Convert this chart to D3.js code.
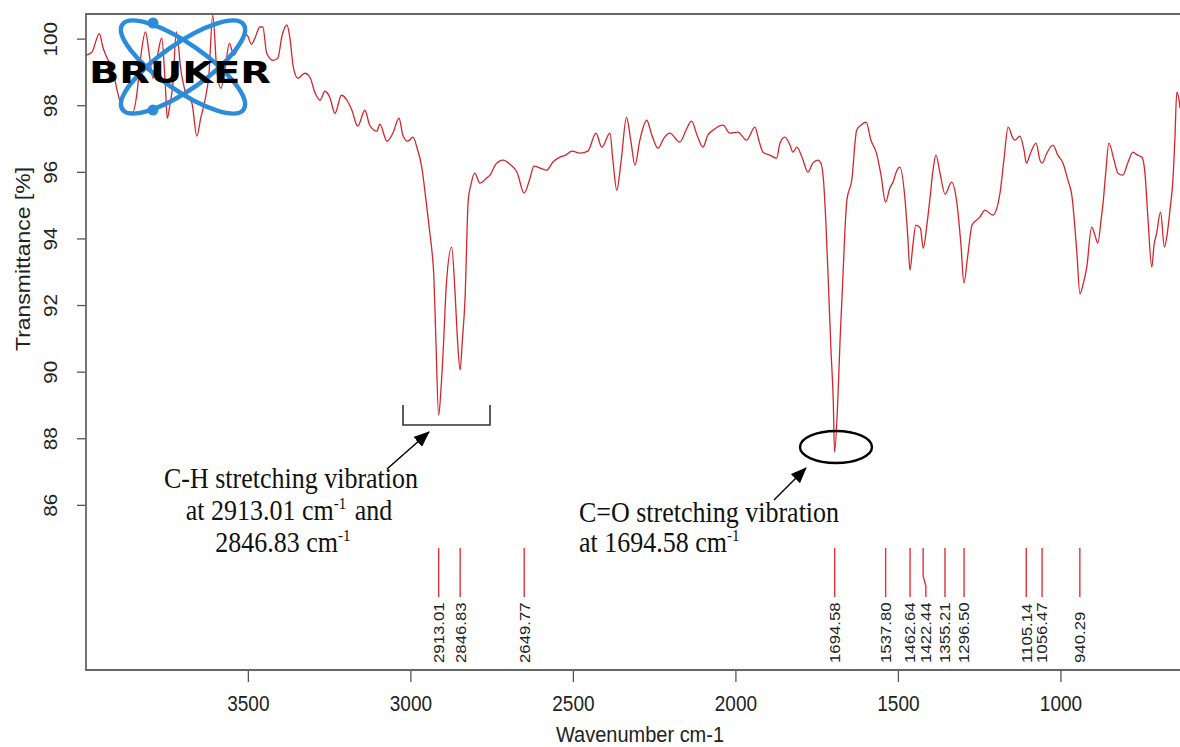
<!DOCTYPE html>
<html>
<head>
<meta charset="utf-8">
<script src="https://cdn.jsdelivr.net/npm/d3@7"></script>
<style>
  body { margin: 0; background: #fff; }
</style>
</head>
<body>
<div id="chart"></div>
<script>
// spectrum (wavenumber cm-1, transmittance %)
var wavenumber = [3998, 3980, 3957, 3946, 3937, 3918, 3894, 3866, 3854, 3842, 3829, 3815, 3803, 3792, 3778, 3765,
  3754, 3748, 3740, 3731, 3720, 3706, 3691, 3672, 3657, 3645, 3632, 3620, 3608, 3595, 3583, 3569, 3557, 3543, 3528,
  3512, 3503, 3489, 3478, 3463, 3454, 3442, 3423, 3408, 3395, 3380, 3371, 3360, 3346, 3325, 3309, 3294, 3278, 3263,
  3248, 3232, 3212, 3195, 3180, 3162, 3140, 3125, 3103, 3094, 3072, 3054, 3035, 3023, 3008, 2992, 2980, 2965, 2952,
  2940, 2934, 2928, 2922, 2913, 2906, 2899, 2889, 2873, 2863, 2855, 2847, 2840, 2832, 2822, 2814, 2802, 2786, 2766,
  2755, 2737, 2715, 2694, 2672, 2650, 2632, 2620, 2581, 2562, 2540, 2522, 2503, 2478, 2454, 2429, 2411, 2386, 2377,
  2365, 2352, 2335, 2322, 2309, 2294, 2273, 2257, 2238, 2220, 2202, 2171, 2152, 2135, 2118, 2100, 2085, 2069, 2038,
  2017, 1992, 1966, 1940, 1928, 1915, 1894, 1873, 1863, 1848, 1832, 1823, 1811, 1795, 1777, 1762, 1746, 1737, 1729,
  1722, 1714, 1706, 1699, 1695, 1685, 1678, 1670, 1663, 1657, 1642, 1627, 1614, 1598, 1583, 1566, 1552, 1538, 1525,
  1514, 1503, 1494, 1478, 1469, 1463, 1454, 1445, 1431, 1422, 1411, 1402, 1392, 1383, 1371, 1355, 1335, 1319, 1306,
  1297, 1285, 1272, 1248, 1232, 1208, 1186, 1174, 1161, 1146, 1140, 1125, 1112, 1105, 1091, 1075, 1063, 1056, 1042,
  1023, 1008, 992, 977, 965, 950, 940, 931, 919, 904, 894, 885, 875, 868, 860, 851, 835, 823, 808, 792, 777, 762,
  749, 740, 731, 719, 712, 704, 692, 680, 672, 663, 654, 648, 642, 635, 632];

var transmittance = [99.50, 99.59, 100.15, 99.74, 99.50, 99.11, 98.15, 97.79, 97.79, 98.30, 99.50, 100.20, 99.50,
  98.81, 99.50, 100.02, 98.60, 97.61, 98.00, 98.60, 100.20, 99.05, 98.36, 98.06, 97.07, 97.61, 98.15, 98.90, 100.71,
  98.99, 98.51, 99.17, 99.86, 99.50, 99.77, 100.05, 100.11, 99.83, 100.02, 100.35, 100.35, 99.56, 99.35, 99.41,
  100.08, 100.41, 100.05, 99.14, 98.81, 98.96, 98.84, 98.39, 98.15, 98.42, 98.24, 97.76, 98.30, 98.15, 97.85, 97.37,
  97.85, 97.40, 97.22, 97.43, 96.92, 97.16, 97.61, 97.10, 96.92, 97.04, 96.74, 96.14, 95.15, 94.16, 93.65, 92.90,
  91.10, 88.69, 89.44, 90.65, 92.66, 93.74, 92.45, 90.95, 90.05, 90.95, 92.15, 95.15, 95.60, 95.96, 95.66, 95.81,
  95.90, 96.23, 96.35, 96.23, 95.99, 95.36, 95.81, 96.17, 96.05, 96.29, 96.44, 96.50, 96.62, 96.56, 96.62, 97.16,
  96.74, 97.16, 96.35, 95.45, 96.29, 97.64, 96.95, 96.20, 96.95, 97.55, 97.10, 96.71, 97.01, 97.16, 96.89, 97.25,
  97.52, 97.10, 96.74, 97.10, 97.25, 97.40, 97.16, 97.19, 96.95, 97.34, 96.95, 96.59, 96.50, 96.41, 96.86, 97.04,
  96.80, 96.59, 96.74, 96.44, 95.99, 96.26, 96.35, 96.26, 95.75, 94.55, 92.66, 90.65, 89.14, 87.58, 89.14, 90.95,
  92.66, 94.25, 95.15, 95.75, 97.25, 97.40, 97.49, 96.95, 96.56, 95.90, 95.09, 95.51, 95.72, 96.05, 96.14, 95.15,
  93.95, 93.05, 93.80, 94.40, 94.31, 93.71, 94.40, 95.15, 96.05, 96.50, 95.99, 95.33, 95.69, 95.09, 93.80, 92.66,
  93.50, 94.40, 94.64, 94.85, 94.70, 95.36, 96.35, 97.34, 97.01, 96.95, 97.07, 96.65, 96.26, 96.59, 96.86, 96.35,
  96.26, 96.56, 96.80, 96.50, 96.26, 95.75, 95.30, 93.65, 92.33, 92.60, 93.14, 94.34, 94.10, 93.86, 94.55, 95.15,
  96.05, 96.86, 96.35, 95.96, 95.90, 96.29, 96.59, 96.50, 96.44, 95.96, 94.64, 93.14, 93.80, 94.16, 94.79, 93.74,
  94.10, 94.85, 95.75, 96.95, 98.39, 98.15, 97.91];

// picked peaks
var peaks = [2913.01, 2846.83, 2649.77, 1694.58, 1537.80, 1462.64, 1422.44, 1355.21, 1296.50, 1105.14, 1056.47, 940.29];

var xTicks = [3500, 3000, 2500, 2000, 1500, 1000];
var yTicks = [86, 88, 90, 92, 94, 96, 98, 100];

var svgWidth = 1180;
var svgHeight = 747;
var plot = { left: 86, right: 1182, top: 14, bottom: 670 };
var stretch = 1.12; // text in the picture is a bit taller than wide
var sans = "'Liberation Sans', Arial, Helvetica, sans-serif";
var serif = "'Liberation Serif', 'Times New Roman', Times, serif";

var svg = d3.select("#chart")
  .append("svg")
  .attr("width", svgWidth)
  .attr("height", svgHeight)
  .style("background", "#fff");

var x = d3.scaleLinear().domain([3998, 626]).range([plot.left, plot.right]);
var y = d3.scaleLinear().domain([81.04, 100.74]).range([plot.bottom, plot.top]);

svg.append("defs").append("clipPath").attr("id", "clip")
  .append("rect")
  .attr("x", plot.left).attr("y", plot.top)
  .attr("width", plot.right - plot.left).attr("height", plot.bottom - plot.top);

var marker = svg.select("defs").append("marker")
  .attr("id", "arrow")
  .attr("markerUnits", "userSpaceOnUse")
  .attr("viewBox", "0 0 16 13")
  .attr("markerWidth", 16).attr("markerHeight", 13)
  .attr("refX", 15).attr("refY", 6.5)
  .attr("orient", "auto");
marker.append("path").attr("d", "M0,0 L16,6.5 L0,13 Z").attr("fill", "#000");

// spectrum
var points = wavenumber.map((w, i) => [w, transmittance[i]]);
var line = d3.line()
  .x(d => x(d[0]))
  .y(d => y(d[1]))
  .curve(d3.curveMonotoneX);

svg.append("path")
  .datum(points)
  .attr("clip-path", "url(#clip)")
  .attr("fill", "none")
  .attr("stroke", "#d3262c")
  .attr("stroke-width", 1.3)
  .attr("stroke-linejoin", "round")
  .attr("d", line);

// axes
var xAxis = svg.append("g")
  .attr("transform", `translate(0, ${plot.bottom})`)
  .call(d3.axisBottom(x).tickValues(xTicks).tickFormat(d3.format("d")).tickSize(12).tickSizeOuter(0));
xAxis.select(".domain").remove();
xAxis.selectAll("line").attr("stroke", "#555").attr("stroke-width", 1.3);
xAxis.selectAll("text")
  .attr("y", null).attr("dy", null)
  .attr("transform", `translate(0, 41) scale(1, ${stretch})`)
  .attr("fill", "#222")
  .style("font-family", sans)
  .style("font-size", "19px");

var yAxis = svg.append("g")
  .attr("transform", `translate(${plot.left}, 0)`)
  .call(d3.axisLeft(y).tickValues(yTicks).tickSize(9).tickSizeOuter(0));
yAxis.select(".domain").remove();
yAxis.selectAll("line").attr("stroke", "#555").attr("stroke-width", 1.3);
yAxis.selectAll("text")
  .attr("x", null).attr("dy", null)
  .attr("text-anchor", "middle")
  .attr("transform", `translate(-29, 0) scale(1, ${stretch}) rotate(-90)`)
  .attr("fill", "#222")
  .style("font-family", sans)
  .style("font-size", "18.5px");

// plot frame
svg.append("path")
  .attr("d", `M${plot.right},${plot.top} H${plot.left} V${plot.bottom} H${plot.right} Z`)
  .attr("fill", "none")
  .attr("stroke", "#666")
  .attr("stroke-width", 1.8);

// axis titles
svg.append("text")
  .attr("transform", `translate(640, 742) scale(1, ${stretch})`)
  .attr("text-anchor", "middle")
  .attr("fill", "#222")
  .style("font-family", sans)
  .style("font-size", "20px")
  .text("Wavenumber cm-1");

svg.append("text")
  .attr("transform", `translate(30, 259) scale(1, ${stretch}) rotate(-90)`)
  .attr("text-anchor", "middle")
  .attr("fill", "#222")
  .style("font-family", sans)
  .style("font-size", "20.5px")
  .text("Transmittance [%]");

// peak sticks and labels, labels pushed apart when too close
var minGap = 15.8;
var prev = -Infinity;
var stickData = peaks.map(function(p) {
  var px = x(p);
  var lx = Math.max(px, prev + minGap);
  prev = lx;
  return { value: p, px: px, lx: lx };
});

var sticks = svg.append("g");
sticks.selectAll("path")
  .data(stickData)
  .enter()
  .append("path")
  .attr("d", d => `M${d.px},548 V576 L${d.lx},586 V597`)
  .attr("fill", "none")
  .attr("stroke", "#e0323a")
  .attr("stroke-width", 1.4);

sticks.selectAll("text")
  .data(stickData)
  .enter()
  .append("text")
  .attr("transform", d => `translate(${d.lx}, 663) scale(1, ${stretch}) rotate(-90)`)
  .attr("dy", "0.36em")
  .attr("fill", "#222")
  .style("font-family", sans)
  .style("font-size", "15px")
  .text(d => d3.format(".2f")(d.value));

// annotations
var notes = svg.append("g").style("font-family", serif).attr("fill", "#111");

// bracket round the C-H doublet
notes.append("path")
  .attr("d", "M403,405 V425 H490 V405")
  .attr("fill", "none")
  .attr("stroke", "#333")
  .attr("stroke-width", 1.6);

notes.append("line")
  .attr("x1", 387).attr("y1", 469).attr("x2", 429).attr("y2", 432)
  .attr("stroke", "#000").attr("stroke-width", 1.5)
  .attr("marker-end", "url(#arrow)");

function noteLine(g, tx, ty, anchor, parts) {
  var t = g.append("text")
    .attr("transform", `translate(${tx}, ${ty}) scale(1, ${stretch})`)
    .attr("text-anchor", anchor)
    .style("font-size", "26px");
  parts.forEach(function(p) {
    if (p.sup) {
      t.append("tspan").attr("dy", -10).style("font-size", "15px").text(p.sup);
      t.append("tspan").attr("dy", 10).text("\u200a");
    } else {
      t.append("tspan").text(p.text);
    }
  });
}

noteLine(notes, 291, 488, "middle", [{ text: "C-H stretching vibration" }]);
noteLine(notes, 289, 520, "middle", [{ text: "at 2913.01 cm" }, { sup: "-1" }, { text: " and" }]);
noteLine(notes, 284, 552, "middle", [{ text: "2846.83 cm" }, { sup: "-1" }]);

// ellipse round the C=O band
notes.append("ellipse")
  .attr("cx", 836).attr("cy", 447).attr("rx", 36).attr("ry", 16)
  .attr("fill", "none")
  .attr("stroke", "#000")
  .attr("stroke-width", 2.4);

notes.append("line")
  .attr("x1", 774).attr("y1", 500).attr("x2", 806).attr("y2", 468)
  .attr("stroke", "#000").attr("stroke-width", 1.5)
  .attr("marker-end", "url(#arrow)");

noteLine(notes, 579, 522, "start", [{ text: "C=O stretching vibration" }]);
noteLine(notes, 579, 552, "start", [{ text: "at 1694.58 cm" }, { sup: "-1" }]);

// Bruker logo
var logo = svg.append("g");
[35, -35].forEach(function(a) {
  logo.append("ellipse")
    .attr("transform", `translate(183, 67) rotate(${a})`)
    .attr("rx", 74).attr("ry", 23)
    .attr("fill", "none")
    .attr("stroke", "#2a8ddb")
    .attr("stroke-width", 4.5);
});
logo.append("circle").attr("cx", 153).attr("cy", 23).attr("r", 5.5).attr("fill", "#2a8ddb");
logo.append("circle").attr("cx", 153).attr("cy", 110).attr("r", 5.5).attr("fill", "#2a8ddb");
logo.append("text")
  .attr("x", 89).attr("y", 83)
  .attr("textLength", 182)
  .attr("lengthAdjust", "spacingAndGlyphs")
  .attr("fill", "#000")
  .style("font-family", "'DejaVu Sans', Arial, sans-serif")
  .style("font-weight", "900")
  .style("font-size", "31px")
  .text("BRUKER");
</script>
</body>
</html>
